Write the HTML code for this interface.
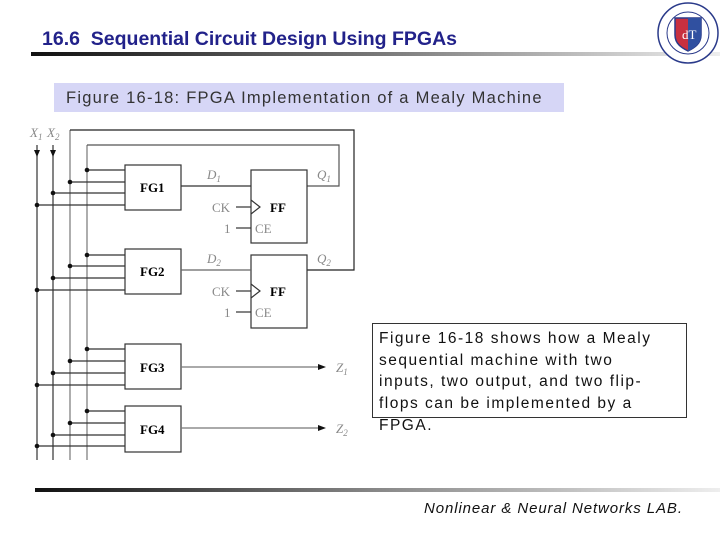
<!DOCTYPE html>
<html><head><style>
body{margin:0;width:720px;height:540px;background:#fff;position:relative;overflow:hidden;font-family:"Liberation Sans",sans-serif}
.t{position:absolute;left:42px;top:28px;font-size:19.5px;font-weight:bold;color:#22228a;white-space:nowrap}
.l1{position:absolute;left:31px;top:52px;width:689px;height:4px;background:linear-gradient(90deg,#111,#777 50%,#eee)}
.cap{position:absolute;left:54px;top:83px;width:510px;height:29px;background:#d6d6f6;font-size:16.5px;color:#333;line-height:30px;text-indent:12px;letter-spacing:1.25px;white-space:nowrap}
.box{position:absolute;left:372px;top:323px;width:315px;height:95px;border:1px solid #333;font-size:15.5px;line-height:21.7px;color:#111;padding:4px 0 0 6px;box-sizing:border-box;letter-spacing:1.5px;white-space:nowrap}
.l2{position:absolute;left:35px;top:488px;width:685px;height:4px;background:linear-gradient(90deg,#111,#888 50%,#eee)}
.ft{position:absolute;left:424px;top:500px;font-size:15px;font-style:italic;color:#111;letter-spacing:0.9px;white-space:nowrap}
</style></head><body>
<div class="t">16.6&nbsp; Sequential Circuit Design Using FPGAs</div>
<div class="l1"></div>
<svg style="position:absolute;left:655px;top:1px" width="66" height="66" viewBox="0 0 66 66">
<circle cx="33" cy="32" r="30" fill="#fff" stroke="#2a3a8a" stroke-width="1.5"/>
<circle cx="33" cy="32" r="21" fill="none" stroke="#2a3a8a" stroke-width="1"/>
<path d="M20 17h26v17c0 9-7 13-13 16c-6-3-13-7-13-16z" fill="#c83040" stroke="#2a3a8a" stroke-width="1.5"/>
<path d="M33 17h13v17c0 9-7 13-13 16z" fill="#3050a0"/>
<text x="27" y="38" font-size="13" fill="#fff" font-family="Liberation Serif">dT</text>
</svg>
<div class="cap">Figure 16-18: FPGA Implementation of a Mealy Machine</div>
<svg style="position:absolute;left:0;top:0" width="720" height="540">
<g stroke="#333" stroke-width="1.2" fill="none">
<line x1="37" y1="145" x2="37" y2="460"/><line x1="53" y1="145" x2="53" y2="460"/>
<line x1="70" y1="130" x2="70" y2="460" stroke="#777"/><line x1="87" y1="145" x2="87" y2="460" stroke="#777"/>
<polyline points="70,130 354,130 354,270 307,270" stroke="#222"/>
<polyline points="87,145 339,145 339,186 307,186" stroke="#555"/>
<rect x="125" y="165" width="56" height="45"/><rect x="125" y="249" width="56" height="45"/>
<rect x="125" y="344" width="56" height="45"/><rect x="125" y="406" width="56" height="46"/>
<rect x="251" y="170" width="56" height="73"/><rect x="251" y="255" width="56" height="73"/>
<line x1="181" y1="186" x2="251" y2="186"/><line x1="181" y1="270" x2="251" y2="270" stroke="#666"/>
<line x1="236" y1="207" x2="251" y2="207"/><line x1="236" y1="228" x2="251" y2="228"/>
<line x1="236" y1="291" x2="251" y2="291"/><line x1="236" y1="312" x2="251" y2="312"/>
<polyline points="251,200 260,207 251,214"/><polyline points="251,284 260,291 251,298"/>
<line x1="181" y1="367" x2="322" y2="367" stroke="#777"/><line x1="181" y1="428" x2="322" y2="428" stroke="#777"/>
<line x1="87" y1="170" x2="125" y2="170"/><line x1="70" y1="182" x2="125" y2="182"/><line x1="53" y1="193" x2="125" y2="193"/><line x1="37" y1="205" x2="125" y2="205"/>
<line x1="87" y1="255" x2="125" y2="255"/><line x1="70" y1="266" x2="125" y2="266"/><line x1="53" y1="278" x2="125" y2="278"/><line x1="37" y1="290" x2="125" y2="290"/>
<line x1="87" y1="349" x2="125" y2="349"/><line x1="70" y1="361" x2="125" y2="361"/><line x1="53" y1="373" x2="125" y2="373"/><line x1="37" y1="385" x2="125" y2="385"/>
<line x1="87" y1="411" x2="125" y2="411"/><line x1="70" y1="423" x2="125" y2="423"/><line x1="53" y1="435" x2="125" y2="435"/><line x1="37" y1="446" x2="125" y2="446"/>
</g>
<g fill="#111">
<circle cx="87" cy="170" r="2.3"/><circle cx="70" cy="182" r="2.3"/><circle cx="53" cy="193" r="2.3"/><circle cx="37" cy="205" r="2.3"/>
<circle cx="87" cy="255" r="2.3"/><circle cx="70" cy="266" r="2.3"/><circle cx="53" cy="278" r="2.3"/><circle cx="37" cy="290" r="2.3"/>
<circle cx="87" cy="349" r="2.3"/><circle cx="70" cy="361" r="2.3"/><circle cx="53" cy="373" r="2.3"/><circle cx="37" cy="385" r="2.3"/>
<circle cx="87" cy="411" r="2.3"/><circle cx="70" cy="423" r="2.3"/><circle cx="53" cy="435" r="2.3"/><circle cx="37" cy="446" r="2.3"/>
<polygon points="34,150 40,150 37,157"/><polygon points="50,150 56,150 53,157"/>
<polygon points="318,364 326,367 318,370"/><polygon points="318,425 326,428 318,431"/>
</g>
<g font-family="Liberation Serif,serif" font-size="13">
<text x="140" y="192" font-weight="bold">FG1</text><text x="140" y="276" font-weight="bold">FG2</text>
<text x="140" y="372" font-weight="bold">FG3</text><text x="140" y="434" font-weight="bold">FG4</text>
<text x="270" y="212" font-weight="bold">FF</text><text x="270" y="296" font-weight="bold">FF</text>
<g fill="#888"><text x="212" y="212">CK</text><text x="224" y="233">1</text><text x="255" y="233">CE</text>
<text x="212" y="296">CK</text><text x="224" y="317">1</text><text x="255" y="317">CE</text>
<text x="207" y="179" font-style="italic">D<tspan font-size="9" dy="3">1</tspan></text>
<text x="207" y="263" font-style="italic">D<tspan font-size="9" dy="3">2</tspan></text>
<text x="317" y="179" font-style="italic">Q<tspan font-size="9" dy="3">1</tspan></text>
<text x="317" y="263" font-style="italic">Q<tspan font-size="9" dy="3">2</tspan></text>
<text x="336" y="372" font-style="italic">Z<tspan font-size="9" dy="3">1</tspan></text>
<text x="336" y="433" font-style="italic">Z<tspan font-size="9" dy="3">2</tspan></text>
<text x="30" y="137" font-style="italic">X<tspan font-size="9" dy="3">1</tspan></text>
<text x="47" y="137" font-style="italic">X<tspan font-size="9" dy="3">2</tspan></text></g>
</g>
</svg>
<div class="box">Figure 16-18 shows how a Mealy<br>sequential machine with two<br>inputs, two output, and two flip-<br>flops can be implemented by a<br>FPGA.</div>
<div class="l2"></div>
<div class="ft">Nonlinear &amp; Neural Networks LAB.</div>
</body></html>
